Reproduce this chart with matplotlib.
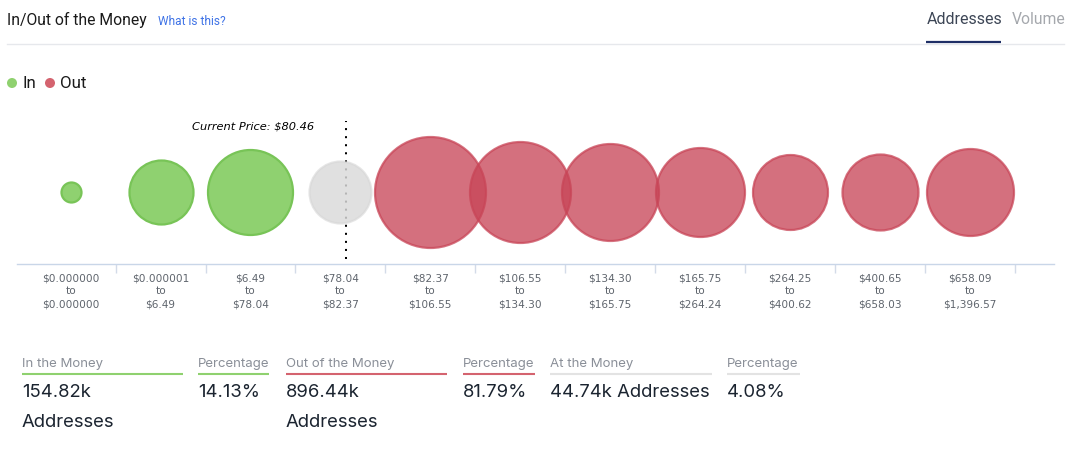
import matplotlib

matplotlib.use("Agg")
import matplotlib.pyplot as plt
from matplotlib.ticker import FixedLocator, NullFormatter

W, H = 1070, 457

# bubble diameters in px
range_low = ["$0.000000", "$0.000001", "$6.49", "$78.04", "$82.37", "$106.55",
             "$134.30", "$165.75", "$264.25", "$400.65", "$658.09"]
range_high = ["$0.000000", "$6.49", "$78.04", "$82.37", "$106.55", "$134.30",
              "$165.75", "$264.24", "$400.62", "$658.03", "$1,396.57"]
diameters = [22, 66, 87, 64, 113, 103, 99, 91, 77, 78, 89]
groups = ["in", "in", "in", "at", "out", "out", "out", "out", "out", "out", "out"]

fill_colors = {"in": (0.56, 0.82, 0.44, 1.0), "at": (0.855, 0.855, 0.855, 0.83), "out": (0.784, 0.27, 0.34, 0.77)}
edge_colors = {"in": (0.47, 0.77, 0.34, 1.0), "at": (0.84, 0.84, 0.84, 0.6), "out": (0.784, 0.27, 0.34, 0.75)}

GREEN = "#8fd16f"
RED = "#d4636f"
GREY_LINE = "#e3e3e3"
LABEL_GREY = "#8a8f98"
DARK = "#1b2430"

stats = [
    (22, 183, "In the Money", ["154.82k", "Addresses"], GREEN),
    (198, 269, "Percentage", ["14.13%"], GREEN),
    (286, 447, "Out of the Money", ["896.44k", "Addresses"], RED),
    (463, 535, "Percentage", ["81.79%"], RED),
    (550, 712, "At the Money", ["44.74k Addresses"], GREY_LINE),
    (727, 800, "Percentage", ["4.08%"], GREY_LINE),
]

plt.rcParams["font.family"] = ["Roboto", "DejaVu Sans"]
fig = plt.figure(figsize=(W / 100, H / 100), dpi=100)

# overlay in pixel coords for the page furniture around the chart
page = fig.add_axes([0, 0, 1, 1], zorder=3)
page.set_xlim(0, W)
page.set_ylim(H, 0)
page.axis("off")
page.patch.set_alpha(0)

# bubble chart, y runs in px above the axis line
ax = fig.add_axes([17 / W, (H - 264) / H, (1054 - 17) / W, 150 / H])
ax.set_xlim(-0.597, 10.938)
ax.set_ylim(0, 150)
ax.patch.set_alpha(0)
for side in ("top", "left", "right"):
    ax.spines[side].set_visible(False)
ax.spines["bottom"].set_color("#c9d6e8")
ax.spines["bottom"].set_linewidth(1.0)

# current price marker sits under the bubbles
price_x = (346 - 70.7) / 89.9
ax.plot([price_x, price_x], [5, 143], color="black", lw=1.45, dashes=(1, 3),
        dash_capstyle="butt", clip_on=False, zorder=1)

xs = list(range(len(diameters)))
for x, d, g in zip(xs, diameters, groups):
    ax.scatter(x, 72.5, s=((d - 2) * 0.72) ** 2, facecolors=[fill_colors[g]],
               edgecolors=[edge_colors[g]], linewidths=1.6, clip_on=False, zorder=2)

ax.xaxis.set_major_locator(FixedLocator([i + 0.5 for i in xs]))
ax.xaxis.set_major_formatter(NullFormatter())
ax.tick_params(axis="x", length=6.5, width=1, color="#d3dbe8")
ax.set_yticks([])

for x, lo, hi in zip(xs, range_low, range_high):
    ax.annotate(f"{lo}\nto\n{hi}", (x, 0), xytext=(0, -6.5), textcoords="offset points",
                ha="center", va="top", fontsize=7.6, color="#5f656d",
                family="DejaVu Sans", linespacing=1.42, annotation_clip=False)

page.text(192, 126.7, "Current Price: $80.46", fontsize=8.2, style="italic",
          family="DejaVu Sans", color="black", va="center")

# header
page.text(7, 20, "In/Out of the Money", fontsize=11.35, color="#1a1a1a", va="center")
page.text(158, 21.5, "What is this?", fontsize=8.6, color="#3f73e6", va="center")
page.plot([7, 1064], [43.5, 43.5], color="#e6e8ec", lw=1)
page.text(927, 19, "Addresses", fontsize=11.5, color="#3d4656", va="center")
page.text(1012, 20, "Volume", fontsize=11.3, color="#a5a8ad", va="center")
page.plot([926, 1001], [42, 42], color="#1f2f66", lw=1.6, solid_capstyle="butt")

# legend
page.scatter([12], [83], s=52, color=GREEN, edgecolors="none")
page.text(22, 83, "In", fontsize=12.2, color="#1a1a1a", va="center")
page.scatter([50], [83], s=52, color=RED, edgecolors="none")
page.text(60, 83, "Out", fontsize=12.2, color="#1a1a1a", va="center")

# summary row
for x0, x1, label, values, color in stats:
    page.text(x0, 363.5, label, fontsize=9.5, color=LABEL_GREY, va="center", family="Inter")
    page.plot([x0, x1], [373.5, 373.5], color=color, lw=1.5, solid_capstyle="butt")
    for row, value in enumerate(values):
        page.text(x0, 392.5 + row * 30, value, fontsize=13.3, color=DARK, va="center", family="Inter")

fig.savefig("out.png", dpi=100)
